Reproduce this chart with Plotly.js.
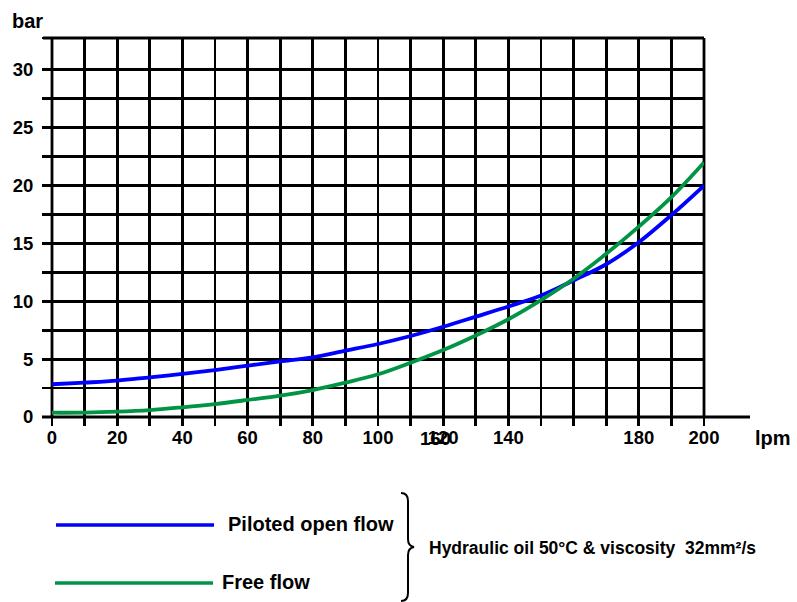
<!DOCTYPE html>
<html>
<head>
<meta charset="utf-8">
<script src="https://cdn.plot.ly/plotly-3.0.1.min.js"></script>
<style>html,body{margin:0;padding:0;background:#fff;}#chart{width:797px;height:602px;}</style>
</head>
<body>
<div id="chart"></div>
<script>
// ---- data ----
const flow = [0,10,20,30,40,50,60,70,80,90,100,110,120,130,140,150,160,170,180,190,200];
const pilotedOpen = [2.83,2.97,3.14,3.43,3.72,4.06,4.44,4.8,5.16,5.73,6.31,7.0,7.8,8.67,9.55,10.5,11.8,13.2,15.1,17.45,20.0];
const freeFlow = [0.37,0.38,0.46,0.6,0.84,1.12,1.47,1.84,2.33,2.97,3.69,4.69,5.79,7.05,8.45,10.1,11.95,14.1,16.45,19.0,22.0];
const xTickVals = [0,10,20,30,40,50,60,70,80,90,100,110,120,130,140,150,160,170,180,190,200];
const xTickText = ['0','','20','','40','','60','','80','','100','','120','','140','','','','180','','200'];
const yTickVals = [0,2.5,5,7.5,10,12.5,15,17.5,20,22.5,25,27.5,30,32.75];
const yTickText = ['0','','5','','10','','15','','20','','25','','30',''];
const seriesNames = ['Piloted open flow','Free flow'];
const noteText = 'Hydraulic oil 50°C &amp; viscosity  32mm²/s';

// ---- layout geometry (pixels) ----
const W = 797, H = 602, L = 52, R = 704, T = 38, B = 417;
const px = x => (x - L) / (R - L);
const py = y => (B - y) / (B - T);
const FONT = 'Liberation Sans, Arial, sans-serif';
const blue = '#0000ff', green = '#009444';
const GW = 2.8;

const traces = [
  {x: flow, y: pilotedOpen, name: seriesNames[0], mode: 'lines', line: {color: blue, width: 3.8, shape: 'spline', smoothing: 1}},
  {x: flow, y: freeFlow, name: seriesNames[1], mode: 'lines', line: {color: green, width: 3.8, shape: 'spline', smoothing: 1}}
];

const bracePath = [
  'M', px(401), py(493),
  'Q', px(408), py(493), px(408), py(501),
  'L', px(408), py(539),
  'Q', px(408), py(546), px(414), py(547),
  'Q', px(408), py(548), px(408), py(555),
  'L', px(408), py(593),
  'Q', px(408), py(601), px(401), py(601)
];
function pathStr(arr){
  let s=''; let nums=[];
  const flush=()=>{ if(nums.length){ s+=nums.map((v,k)=>v.toFixed(5)+(k%2===0?',':' ')).join(''); nums=[]; } };
  arr.forEach(t=>{ if(typeof t==='string'){ flush(); s+=t+' '; } else nums.push(t); });
  flush();
  return s.trim();
}

const layout = {
  width: W, height: H,
  margin: {l: L, r: W - R, t: T, b: H - B, pad: 0},
  paper_bgcolor: '#fff', plot_bgcolor: '#fff',
  showlegend: false,
  font: {family: FONT, color: '#000', size: 18, weight: 'bold'},
  xaxis: {
    range: [0, 200], tickmode: 'array', tickvals: xTickVals, ticktext: xTickText,
    showgrid: true, gridcolor: '#000', gridwidth: GW, zeroline: false, showline: false,
    ticks: 'outside', ticklen: 8, tickwidth: GW, tickcolor: '#000',
    tickfont: {family: FONT, size: 18.5, color: '#000', weight: 'bold'}, ticklabelstandoff: -4,
    fixedrange: true
  },
  yaxis: {
    range: [0, 32.75], tickmode: 'array', tickvals: yTickVals, ticktext: yTickText,
    showgrid: true, gridcolor: '#000', gridwidth: GW, zeroline: false, showline: false,
    ticks: 'outside', ticklen: 9, tickwidth: GW, tickcolor: '#000',
    tickfont: {family: FONT, size: 18.5, color: '#000', weight: 'bold'}, ticklabelstandoff: 5,
    fixedrange: true
  },
  shapes: [
    {type: 'line', xref: 'paper', yref: 'paper', x0: px(42), x1: px(750), y0: 0, y1: 0, line: {color: '#000', width: GW}, layer: 'below'},
    {type: 'line', xref: 'paper', yref: 'paper', x0: 1, x1: 1, y0: 0, y1: 1, line: {color: '#000', width: GW}, layer: 'below'},
    {type: 'line', xref: 'paper', yref: 'paper', x0: px(43), x1: 1, y0: 1, y1: 1, line: {color: '#000', width: GW}, layer: 'below'},
    {type: 'line', xref: 'paper', yref: 'paper', x0: 0, x1: 0, y0: 0, y1: 1, line: {color: '#000', width: GW}, layer: 'below'},
    {type: 'line', xref: 'paper', yref: 'paper', x0: px(56), x1: px(214), y0: py(525), y1: py(525), line: {color: blue, width: 3.5}},
    {type: 'line', xref: 'paper', yref: 'paper', x0: px(55), x1: px(213), y0: py(583), y1: py(583), line: {color: green, width: 3.5}},
    {type: 'path', xref: 'paper', yref: 'paper', path: pathStr(bracePath), line: {color: '#000', width: 2}}
  ],
  annotations: [
    {text: 'bar', xref: 'paper', yref: 'paper', x: px(27), y: py(21), xanchor: 'center', yanchor: 'middle', showarrow: false, font: {family: FONT, size: 20, weight: 'bold', color: '#000'}},
    {text: 'lpm', xref: 'paper', yref: 'paper', x: px(773), y: py(438), xanchor: 'center', yanchor: 'middle', showarrow: false, font: {family: FONT, size: 20, weight: 'bold', color: '#000'}},
    {text: '160', xref: 'x', yref: 'paper', x: 117.5, y: py(438), xanchor: 'center', yanchor: 'middle', showarrow: false, font: {family: FONT, size: 18.5, weight: 'bold', color: '#000'}},
    {text: seriesNames[0], xref: 'paper', yref: 'paper', x: px(226), y: py(524), xanchor: 'left', yanchor: 'middle', showarrow: false, font: {family: FONT, size: 20, weight: 'bold', color: '#000'}},
    {text: seriesNames[1], xref: 'paper', yref: 'paper', x: px(220), y: py(582), xanchor: 'left', yanchor: 'middle', showarrow: false, font: {family: FONT, size: 20, weight: 'bold', color: '#000'}},
    {text: noteText, xref: 'paper', yref: 'paper', x: px(427), y: py(548), xanchor: 'left', yanchor: 'middle', showarrow: false, font: {family: FONT, size: 17.5, weight: 'bold', color: '#000'}}
  ]
};

Plotly.newPlot('chart', traces, layout, {displayModeBar: false, staticPlot: true});
</script>
</body>
</html>
